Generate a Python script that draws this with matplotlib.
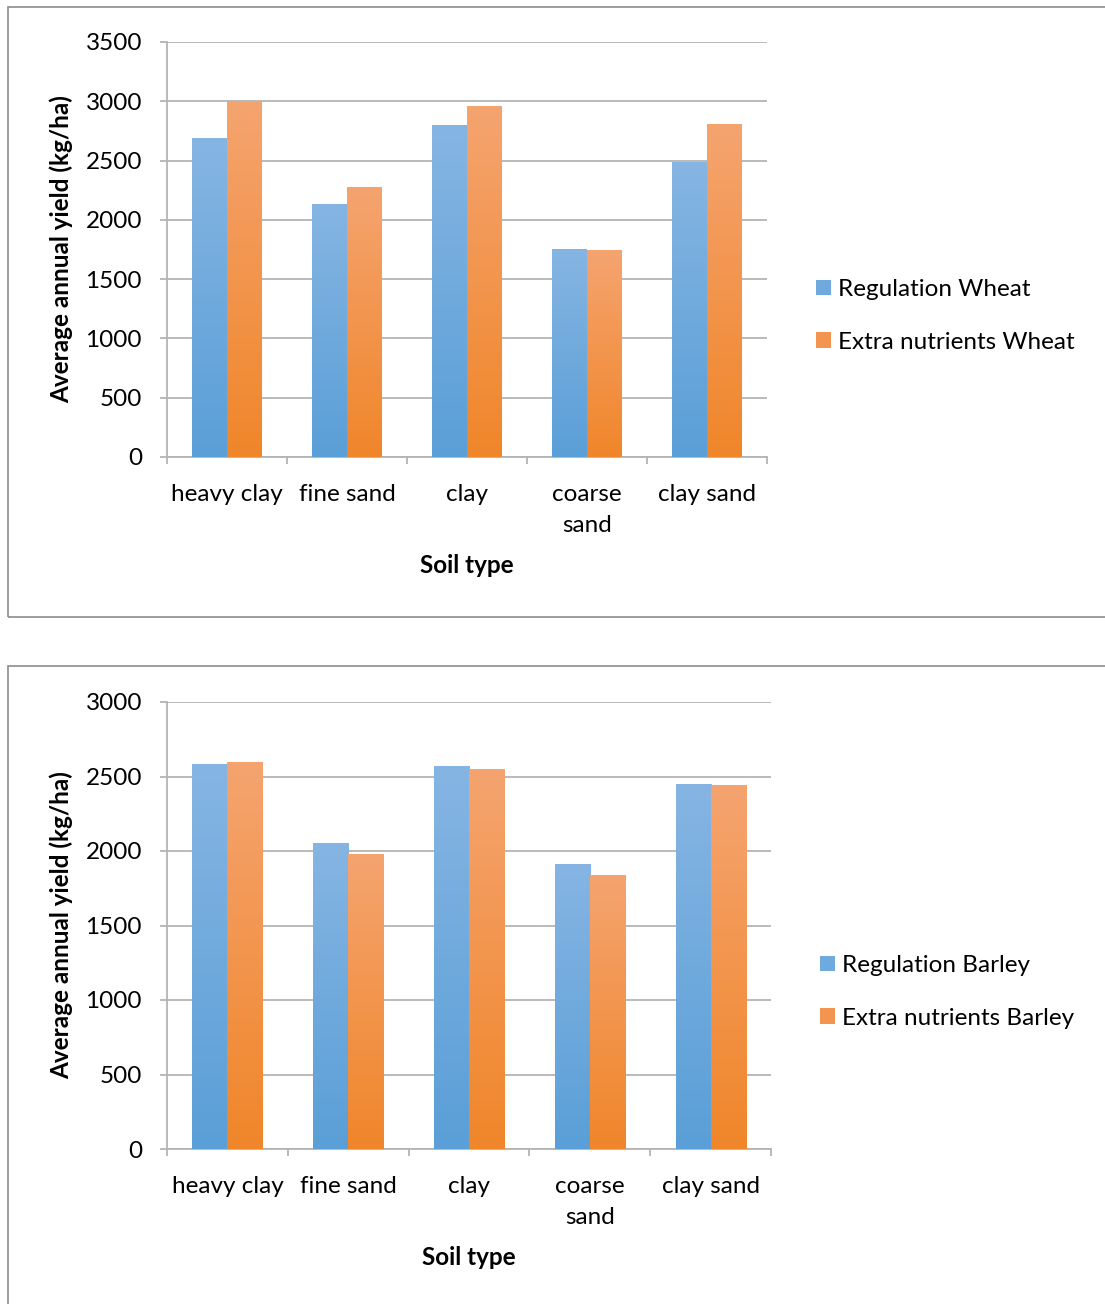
import numpy as np
import matplotlib
matplotlib.use("Agg")
import matplotlib.pyplot as plt
from matplotlib.patches import Rectangle, Patch
from matplotlib.colors import LinearSegmentedColormap

plt.rcParams['font.family'] = ['Lato', 'DejaVu Sans']

soil_types = ["heavy clay", "fine sand", "clay", "coarse\nsand", "clay sand"]

wheat_regulation = [2690, 2137, 2798, 1758, 2486]
wheat_extra = [3005, 2281, 2958, 1750, 2812]

barley_regulation = [2586, 2052, 2573, 1910, 2451]
barley_extra = [2600, 1978, 2552, 1842, 2444]

W, H = 1105, 1304
FS = 17.5
fig = plt.figure(figsize=(W / 100, H / 100), dpi=100)

blue_cmap = LinearSegmentedColormap.from_list("blue", ["#5A9FD7", "#86B5E3"])
orange_cmap = LinearSegmentedColormap.from_list("orange", ["#F0862A", "#F5A470"])
grad = np.linspace(0, 1, 256).reshape(-1, 1)


def px_rect(x0, y0, x1, y1):
    """Convert pixel box (top-left origin) to figure fraction [l, b, w, h]."""
    return [x0 / W, 1 - y1 / H, (x1 - x0) / W, (y1 - y0) / H]


def gradient_fill(ax, bars, cmap):
    for b in bars:
        x, y = b.get_x(), b.get_y()
        w, h = b.get_width(), b.get_height()
        im = ax.imshow(grad, cmap=cmap, origin="lower", aspect="auto",
                       extent=[x, x + w, y, y + h], zorder=3)
        im.set_clip_path(b)
        b.set_facecolor("none")


def draw_chart(frame_box, ax_box, reg, ext, ymax, labels, legend_y, legend_x):
    # outer chart frame
    x0, y0, x1, y1 = frame_box
    fig.add_artist(Rectangle((x0 / W, 1 - y1 / H), (x1 - x0) / W, (y1 - y0) / H,
                             transform=fig.transFigure, fill=False,
                             edgecolor="#8C8C8C", linewidth=1.2))
    ax = fig.add_axes(px_rect(*ax_box))
    x = np.arange(len(soil_types))
    width = 0.29
    b1 = ax.bar(x - width / 2, reg, width, color="#6FAADF", zorder=2, linewidth=0)
    b2 = ax.bar(x + width / 2, ext, width, color="#F39550", zorder=2, linewidth=0)
    gradient_fill(ax, b1, blue_cmap)
    gradient_fill(ax, b2, orange_cmap)

    ax.set_xlim(-0.5, len(soil_types) - 0.5)
    ax.set_ylim(0, ymax)
    ax.set_yticks(np.arange(0, ymax + 1, 500))
    ax.grid(axis="y", color="#B4B4B4", linewidth=1.3, zorder=0)
    ax.set_axisbelow(True)
    for s in ["top", "right"]:
        ax.spines[s].set_visible(False)
    for s in ["left", "bottom"]:
        ax.spines[s].set_color("#B4B4B4")
        ax.spines[s].set_linewidth(1.3)

    # category labels centred, ticks at category boundaries
    ax.set_xticks(x)
    ax.set_xticklabels(soil_types, fontsize=FS, linespacing=1.6, va="top")
    ax.tick_params(axis="x", which="major", length=0, pad=19.5)
    ax.set_xticks(np.arange(-0.5, len(soil_types)), minor=True)
    ax.tick_params(axis="x", which="minor", length=5, color="#B4B4B4", width=1.3)
    ax.tick_params(axis="y", length=5, color="#B4B4B4", width=1.3, labelsize=FS, pad=13)

    ax.set_ylabel("Average annual yield (kg/ha)", fontsize=FS, fontweight="bold", labelpad=9)
    ax.set_xlabel("Soil type", fontsize=FS, fontweight="bold", labelpad=13)

    handles = [Patch(facecolor="#6FAADF", edgecolor="none"),
               Patch(facecolor="#F39550", edgecolor="none")]
    fig.legend(handles, labels, loc="upper left",
               bbox_to_anchor=(legend_x / W, 1 - legend_y / H),
               frameon=False, fontsize=FS, handlelength=0.62, handleheight=0.62,
               handletextpad=0.3, labelspacing=1.3, borderpad=0, borderaxespad=0)
    return ax


draw_chart((8, 7, 1120, 617), (167, 42, 767, 457),
           wheat_regulation, wheat_extra, 3500,
           ["Regulation Wheat", "Extra nutrients Wheat"], 279, 816)
draw_chart((8, 666, 1120, 1320), (167, 702, 771, 1149),
           barley_regulation, barley_extra, 3000,
           ["Regulation Barley", "Extra nutrients Barley"], 955, 820)

fig.savefig("out.png", dpi=100)
